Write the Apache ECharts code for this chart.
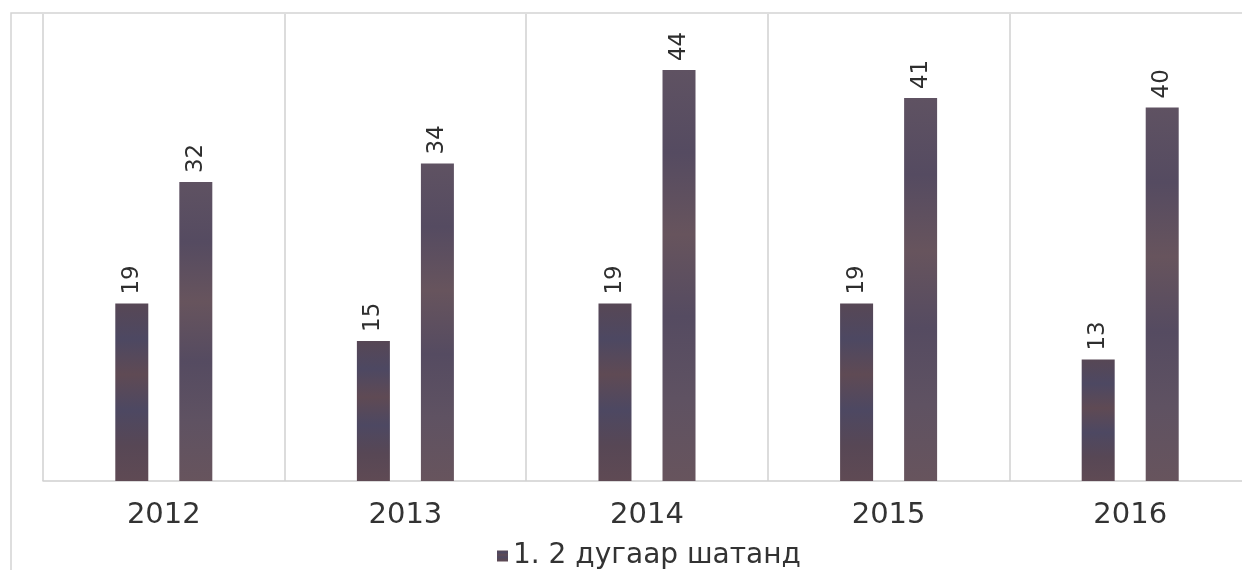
<!DOCTYPE html>
<html>
<head>
<meta charset="utf-8">
<script src="https://cdn.jsdelivr.net/npm/echarts@6/dist/echarts.min.js"></script>
<style>
html,body{margin:0;padding:0;background:#fff;overflow:hidden;width:1242px;height:570px;}
#c{width:1251px;height:570px;}
</style>
</head>
<body>
<div id="c"></div>
<script>
const categories = ['2012', '2013', '2014', '2015', '2016'];
const seriesA = [19, 15, 19, 19, 13];
const seriesB = [32, 34, 44, 41, 40];
const legendName = '1. 2 дугаар шатанд';

const chart = echarts.init(document.getElementById('c'));

function barFill(base) {
  return new echarts.graphic.LinearGradient(0, 0, 0, 1, [
    { offset: 0, color: base[0] },
    { offset: 0.2, color: base[1] },
    { offset: 0.4, color: base[2] },
    { offset: 0.6, color: base[1] },
    { offset: 0.8, color: base[0] },
    { offset: 1, color: base[2] }
  ]);
}

const labelStyle = {
  show: true,
  position: 'top',
  rotate: 90,
  align: 'left',
  verticalAlign: 'middle',
  distance: 9,
  fontFamily: 'DejaVu Sans',
  fontSize: 23,
  color: '#2e2e2e'
};

chart.setOption({
  animation: false,
  backgroundColor: '#fff',
  graphic: [{
    type: 'rect',
    shape: { x: 11, y: 13, width: 1300, height: 620 },
    style: { fill: 'none', stroke: '#d4d4d4', lineWidth: 1.5 },
    z: -1
  }],
  legend: {
    data: [legendName],
    left: 492,
    top: 537,
    itemWidth: 11,
    itemHeight: 11,
    itemGap: 6,
    textStyle: { fontFamily: 'DejaVu Sans', fontSize: 28, color: '#333' },
    icon: 'rect'
  },
  grid: { left: 43, top: 14, right: 0, bottom: 89 },
  xAxis: {
    type: 'category',
    data: categories,
    boundaryGap: true,
    axisLine: { show: true, lineStyle: { color: '#d0d0d0', width: 1.5 } },
    axisTick: { show: false },
    splitLine: { show: true, interval: 0, lineStyle: { color: '#d0d0d0', width: 1.5 } },
    axisLabel: { fontFamily: 'DejaVu Sans', fontSize: 29, color: '#333', margin: 20 }
  },
  yAxis: {
    type: 'value',
    min: 0,
    max: 50,
    show: false,
    splitLine: { show: false }
  },
  series: [
    {
      name: legendName,
      type: 'bar',
      data: seriesA,
      barWidth: 33,
      barGap: '94%',
      itemStyle: { color: barFill(['#574755', '#4d4862', '#5f4a54']) },
      label: labelStyle
    },
    {
      name: '2',
      type: 'bar',
      data: seriesB,
      barWidth: 33,
      itemStyle: { color: barFill(['#5f5262', '#554b61', '#67545d']) },
      label: labelStyle
    }
  ]
});
</script>
</body>
</html>
